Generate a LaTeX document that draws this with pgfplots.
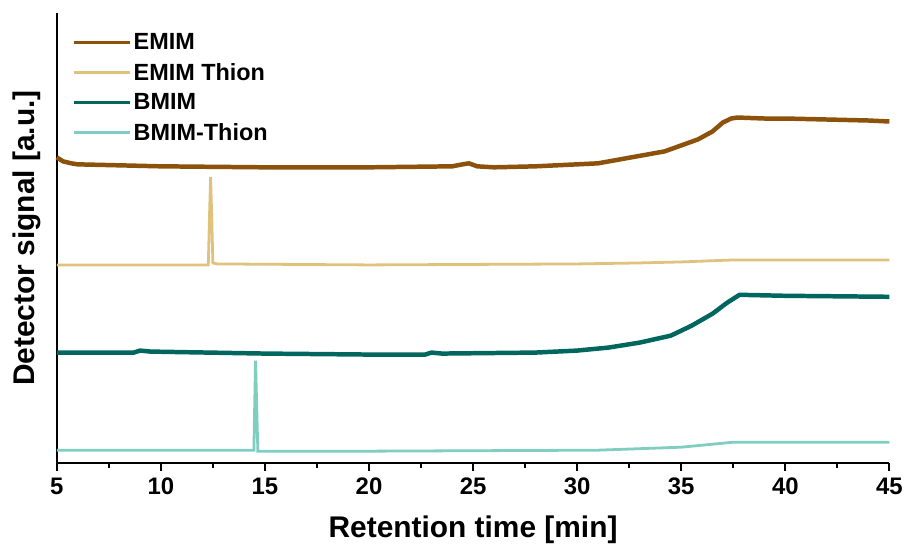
\documentclass[border=0pt]{standalone}
\usepackage{pgfplots}
\pgfplotsset{compat=1.18}
\usepackage{fontspec}
\setmainfont{Liberation Sans}
\definecolor{cEMIM}{HTML}{8C510A}
\definecolor{cEMIMT}{HTML}{DFC27D}
\definecolor{cBMIM}{HTML}{01665E}
\definecolor{cBMIMT}{HTML}{80CDC1}
\begin{document}
\begin{tikzpicture}
\begin{axis}[
  scale only axis, width=836bp, height=452bp,
  xmin=5, xmax=45, ymin=0, ymax=452,
  axis x line*=bottom, axis y line*=left,
  axis line style={line width=2.2bp},
  xtick={5,10,...,45}, minor x tick num=1,
  ytick=\empty,
  tick align=outside,
  major tick length=8bp, minor tick length=5bp,
  every tick/.style={black, line width=2bp},
  tick label style={font=\fontsize{24bp}{28bp}\selectfont\bfseries},
  xticklabel style={yshift=-3bp},
  /pgf/number format/assume math mode=true,
  xlabel={Retention time [min]},
  ylabel={Detector signal [a.u.]},
  label style={font=\fontsize{30bp}{34bp}\selectfont\bfseries},
  xlabel style={at={(axis description cs:0.5,-0.148)}, anchor=center},
  ylabel style={at={(axis description cs:-0.0359,0.5)}, anchor=center},
  clip=false,
  legend cell align=left,
  legend style={draw=none, fill=none, at={(0.019,0.962)}, anchor=north west,
    font=\fontsize{23.5bp}{28bp}\selectfont\bfseries, row sep=5bp, inner sep=0pt,
    nodes={inner ysep=3.5bp}},
  legend image code/.code={\draw[#1, line width=3.2bp] (0bp,0bp) -- (56bp,0bp);},
  after end axis/.code={
    \path (rel axis cs:0,1) ++(-57bp,13bp);
    \path (rel axis cs:1,0) ++(14bp,-86bp);
  },
]
\addplot[cEMIM, line width=4.5bp] coordinates {
(5,307) (5.3,303) (5.7,301) (6,300) (8,299) (10,298) (15,297) (20,297) (24,298) (24.5,300) (24.8,301) (25.2,298) (26,297) (28,298) (30,300) (31,301) (32.6,307) (34.2,313) (35.8,325) (36.5,333) (37,342) (37.4,346) (37.7,347) (39,346) (40,346) (42,345) (44,344) (45,343)};
\addlegendentry{EMIM}
\addplot[cEMIMT, line width=2.8bp] coordinates {
(5,199) (12.28,199) (12.34,250) (12.39,287) (12.44,250) (12.5,201) (12.7,200) (20,199) (30,200) (33,201) (35,202) (37.5,204) (45,204)};
\addlegendentry{EMIM Thion}
\addplot[cBMIM, line width=4.5bp] coordinates {
(5,111) (8.7,111) (9.0,113) (9.5,112) (15,110) (20,109) (22.7,109) (23,111) (23.5,110) (28,111) (30,113) (31.5,116) (33,121) (34.5,128) (35.5,138) (36.5,150) (37.2,161) (37.8,169) (40,168) (45,167)};
\addlegendentry{BMIM}
\addplot[cBMIMT, line width=2.8bp] coordinates {
(5,13) (14.47,13) (14.51,60) (14.55,103) (14.6,60) (14.66,12) (15,12) (20,12) (31,13) (35,16) (37.5,21) (45,21)};
\addlegendentry{BMIM-Thion}
\end{axis}
\end{tikzpicture}
\end{document}
